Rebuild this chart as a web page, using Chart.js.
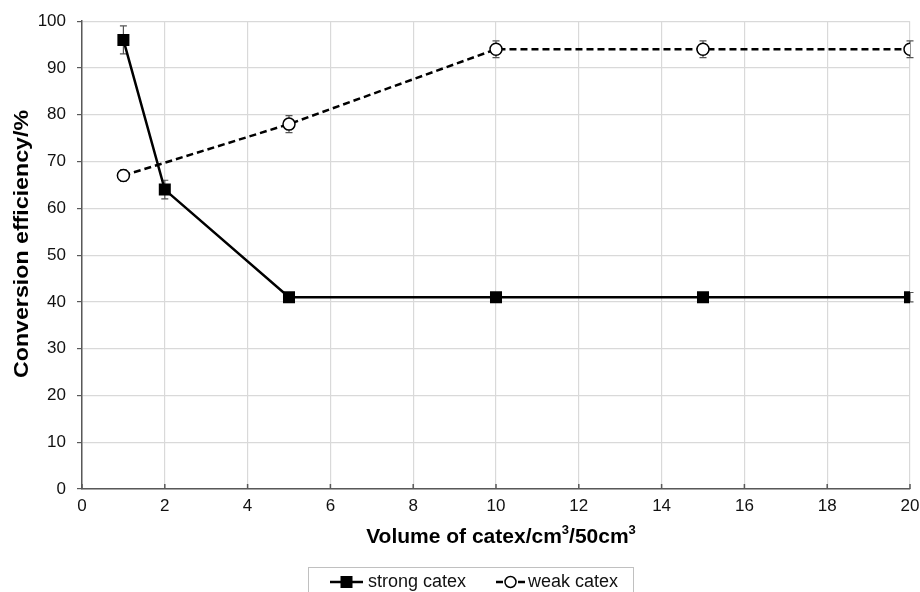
<!DOCTYPE html>
<html>
<head>
<meta charset="utf-8">
<script src="https://cdn.jsdelivr.net/npm/chart.js@4/dist/chart.umd.min.js"></script>
<style>
  html, body { margin: 0; padding: 0; background: #fff; }
  #wrap { width: 920px; height: 592px; position: relative; }
</style>
</head>
<body>
<div id="wrap"><canvas id="conversionChart"></canvas></div>
<script>
// catex volume (cm3 per 50 cm3) and conversion efficiency (%)
const strongVolumes = [1, 2, 5, 10, 15, 20];
const strongEfficiency = [96, 64, 41, 41, 41, 41];
const strongError = [3, 2, 1, 1, 1, 1];

const weakVolumes = [1, 5, 10, 15, 20];
const weakEfficiency = [67, 78, 94, 94, 94];
const weakError = [1.2, 1.8, 1.8, 1.8, 1.8];

const xTicks = [0, 2, 4, 6, 8, 10, 12, 14, 16, 18, 20];
const yTicks = [0, 10, 20, 30, 40, 50, 60, 70, 80, 90, 100];

const FONT = 'Arial, "Liberation Sans", sans-serif';

// vertical error bars with caps, drawn under the markers
const errorBars = {
    id: 'errorBars',
    beforeDatasetsDraw(chart) {
        const { ctx, scales: { x, y } } = chart;
        ctx.save();
        ctx.strokeStyle = '#555';
        ctx.lineWidth = 1.2;
        chart.data.datasets.forEach(ds => {
            ds.data.forEach((p, i) => {
                const e = ds.errors[i];
                const px = x.getPixelForValue(p.x);
                const top = y.getPixelForValue(p.y + e);
                const bot = y.getPixelForValue(p.y - e);
                ctx.beginPath();
                ctx.moveTo(px, top); ctx.lineTo(px, bot);
                ctx.moveTo(px - 3.5, top); ctx.lineTo(px + 3.5, top);
                ctx.moveTo(px - 3.5, bot); ctx.lineTo(px + 3.5, bot);
                ctx.stroke();
            });
        });
        ctx.restore();
    }
};

// small tick marks on the x axis pointing into the plot
const innerTicks = {
    id: 'innerTicks',
    afterDatasetsDraw(chart) {
        const { ctx, scales: { x, y } } = chart;
        const y0 = y.getPixelForValue(0);
        ctx.save();
        ctx.strokeStyle = '#595959';
        ctx.lineWidth = 1.5;
        xTicks.forEach(v => {
            const px = x.getPixelForValue(v);
            ctx.beginPath();
            ctx.moveTo(px, y0);
            ctx.lineTo(px, y0 - 5);
            ctx.stroke();
        });
        ctx.restore();
    }
};

// axis titles, x title with raised exponents
const axisTitles = {
    id: 'axisTitles',
    afterDraw(chart) {
        const { ctx } = chart;
        ctx.save();
        ctx.fillStyle = '#000';
        ctx.textBaseline = 'alphabetic';
        ctx.textAlign = 'left';

        const parts = [
            ['Volume of catex/cm', false], ['3', true],
            ['/50cm', false], ['3', true]
        ];
        const big = 'bold 21px ' + FONT, small = 'bold 13px ' + FONT;
        let total = 0;
        parts.forEach(([t, sup]) => { ctx.font = sup ? small : big; total += ctx.measureText(t).width; });
        let cx = 501 - total / 2;
        parts.forEach(([t, sup]) => {
            ctx.font = sup ? small : big;
            ctx.fillText(t, cx, sup ? 534 : 543);
            cx += ctx.measureText(t).width;
        });

        // y title, slightly stretched along its length
        const yText = 'Conversion efficiency/%';
        ctx.font = 'bold 21px ' + FONT;
        const w = ctx.measureText(yText).width;
        const len = 268;
        ctx.translate(28, 378);
        ctx.rotate(-Math.PI / 2);
        ctx.scale(len / w, 1);
        ctx.fillText(yText, 0, 0);
        ctx.restore();
    }
};

// boxed legend with line + marker samples
const boxLegend = {
    id: 'boxLegend',
    afterDraw(chart) {
        const { ctx } = chart;
        const boxL = 308, boxT = 567, boxR = 633, boxB = 600;
        ctx.save();
        ctx.fillStyle = '#fff';
        ctx.fillRect(boxL, boxT, boxR - boxL, boxB - boxT);
        ctx.strokeStyle = '#c0c0c0';
        ctx.lineWidth = 1;
        ctx.strokeRect(boxL + 0.5, boxT + 0.5, boxR - boxL, boxB - boxT);

        const cy = 582;
        const items = [
            { ds: chart.data.datasets[0], x0: 330, x1: 363, tx: 368 },
            { ds: chart.data.datasets[1], x0: 496, x1: 525, tx: 528 }
        ];
        ctx.font = '18px ' + FONT;
        ctx.textBaseline = 'middle';
        items.forEach(it => {
            const ds = it.ds;
            ctx.strokeStyle = '#000';
            ctx.lineWidth = 2.5;
            ctx.setLineDash(ds.borderDash || []);
            ctx.beginPath();
            ctx.moveTo(it.x0, cy); ctx.lineTo(it.x1, cy);
            ctx.stroke();
            ctx.setLineDash([]);
            const mx = (it.x0 + it.x1) / 2;
            ctx.lineWidth = 1.5;
            if (ds.pointStyle === 'rect') {
                ctx.fillStyle = '#000';
                ctx.fillRect(mx - 6, cy - 6, 12, 12);
            } else {
                ctx.fillStyle = '#fff';
                ctx.beginPath();
                ctx.arc(mx, cy, 5.5, 0, Math.PI * 2);
                ctx.fill(); ctx.stroke();
            }
            ctx.fillStyle = '#111';
            ctx.textAlign = 'left';
            ctx.fillText(ds.label, it.tx, cy);
        });
        ctx.restore();
    }
};

new Chart(document.getElementById('conversionChart'), {
    type: 'scatter',
    data: {
        datasets: [
            {
                label: 'strong catex',
                data: strongVolumes.map((v, i) => ({ x: v, y: strongEfficiency[i] })),
                errors: strongError,
                showLine: true,
                borderColor: '#000',
                borderWidth: 2.5,
                pointStyle: 'rect',
                pointRadius: 8.5,
                pointBackgroundColor: '#000',
                pointBorderColor: '#000',
                pointBorderWidth: 0
            },
            {
                label: 'weak catex',
                data: weakVolumes.map((v, i) => ({ x: v, y: weakEfficiency[i] })),
                errors: weakError,
                showLine: true,
                borderColor: '#000',
                borderWidth: 2.5,
                borderDash: [7, 4],
                pointStyle: 'circle',
                pointRadius: 6,
                pointBackgroundColor: '#fff',
                pointBorderColor: '#000',
                pointBorderWidth: 1.5
            }
        ]
    },
    options: {
        responsive: true,
        maintainAspectRatio: false,
        animation: false,
        layout: { padding: { top: 18, right: 10, bottom: 38, left: 0 } },
        plugins: {
            legend: { display: false },
            tooltip: { enabled: false }
        },
        scales: {
            x: {
                type: 'linear',
                min: 0,
                max: 20,
                afterBuildTicks: axis => { axis.ticks = xTicks.map(v => ({ value: v })); },
                afterFit: axis => { axis.height = 65; axis.paddingRight = 0; },
                border: { color: '#595959', width: 1.5 },
                grid: { color: '#d9d9d9', lineWidth: 1.2, tickLength: 0, drawTicks: false },
                ticks: { color: '#111', font: { family: FONT, size: 17 }, padding: 7 }
            },
            y: {
                min: 0,
                max: 100,
                afterBuildTicks: axis => { axis.ticks = yTicks.map(v => ({ value: v })); },
                afterFit: axis => { axis.width = 82; },
                border: { color: '#595959', width: 1.5 },
                grid: { color: '#d9d9d9', lineWidth: 1.2, tickLength: 5, tickColor: '#595959' },
                ticks: { color: '#111', font: { family: FONT, size: 17 }, padding: 11 }
            }
        }
    },
    plugins: [errorBars, innerTicks, axisTitles, boxLegend]
});
</script>
</body>
</html>
